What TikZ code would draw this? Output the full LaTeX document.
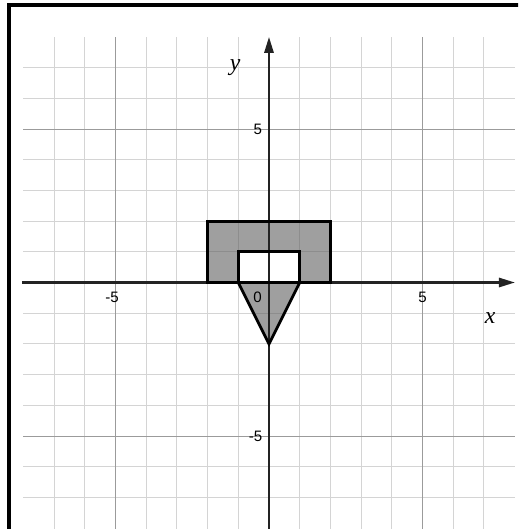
\documentclass[tikz,border=0pt]{standalone}
\usepackage{fontspec}
\setmainfont{Liberation Sans}
\newfontfamily\serifit{Liberation Serif}
\usetikzlibrary{arrows.meta}
\definecolor{gridc}{RGB}{212,212,212}
\definecolor{gridd}{RGB}{155,155,155}
\definecolor{axisc}{RGB}{35,35,35}
\definecolor{fillc}{RGB}{90,90,90}
\begin{document}
\begin{tikzpicture}[x=1cm,y=1cm,
  gridline/.style={line width=0.9pt, draw=gridc},
  gridfive/.style={line width=0.9pt, draw=gridd},
  axisline/.style={line width=2.1pt, draw=axisc, -{Triangle[length=5.2mm,width=3mm]}},
  figfill/.style={fill=fillc, fill opacity=0.58},
  figline/.style={line width=2.6pt, draw=black, line join=miter},
  ticklab/.style={font=\fontsize{14}{15}\selectfont, inner sep=0pt},
  axlab/.style={font=\fontsize{22}{24}\selectfont\serifit\itshape, inner sep=0pt}]
\useasboundingbox (-8.762,-8.029) rectangle (8.111,9.202);
\clip (-8.762,-8.029) rectangle (8.111,9.202);
% grid
\foreach \k in {-7,-6,-4,-3,-2,-1,1,2,3,4,6,7} {
  \draw[gridline] (\k,-8.2) -- (\k,8);
  \draw[gridline] (-8,\k) -- (8,\k);
}
\foreach \k in {-5,5} {
  \draw[gridfive] (\k,-8.2) -- (\k,8);
  \draw[gridfive] (-8,\k) -- (8,\k);
}
% frame
\draw[line width=3pt] (-8.47,-9) -- (-8.47,9.04) -- (9,9.04);
% figure fill
\fill[figfill, even odd rule] (-2,0) rectangle (2,2) (-1,0) rectangle (1,1);
\fill[figfill] (-1,0) -- (1,0) -- (0,-2) -- cycle;
% axes
\coordinate (xs) at (-8.05,0);
\coordinate (xe) at (8.01,0);
\coordinate (ys) at (0,-8.2);
\coordinate (ye) at (0,8);
\draw[axisline] (xs) -- (xe);
\draw[axisline] (ys) -- (ye);
% figure outlines
\draw[figline] (-2,0) rectangle (2,2);
\draw[figline] (-1,0) rectangle (1,1);
\draw[figline] (-1,0) -- (0,-2) -- (1,0);
% labels
\node[ticklab, anchor=base] (xm5) at (-5.11,-0.66) {-5};
\node[ticklab, anchor=base] (xp5) at (5,-0.64) {5};
\node[ticklab, anchor=base] (zero) at (-0.37,-0.64) {0};
\node[ticklab, anchor=east] (yp5) at (-0.22,5) {5};
\node[ticklab, anchor=east] (ym5) at (-0.21,-5.02) {-5};
\node[axlab, anchor=base] (xlab) at (7.2,-1.35) {x};
\node[axlab, anchor=base] (ylab) at (-1.1,6.89) {y};
\end{tikzpicture}
\end{document}
